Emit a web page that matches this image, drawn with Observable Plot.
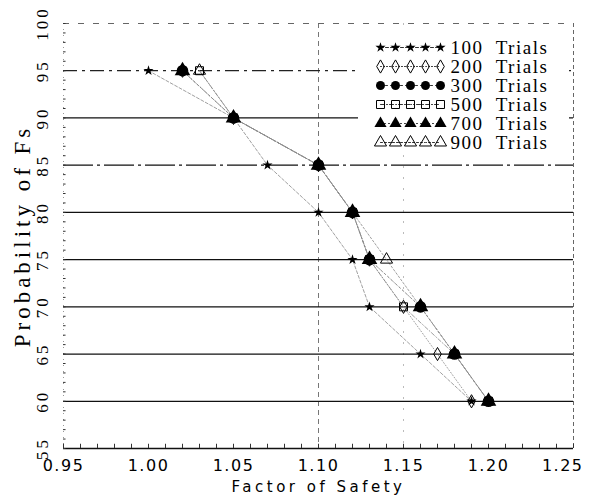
<!DOCTYPE html>
<html>
<head>
<meta charset="utf-8">
<script src="https://cdn.jsdelivr.net/npm/d3@7"></script>
<script src="https://cdn.jsdelivr.net/npm/@observablehq/plot@0.6"></script>
<style>
  html, body { margin: 0; padding: 0; background: #fff; }
  #wrap { position: relative; width: 589px; height: 499px; }
  #legend { position: absolute; left: 358px; top: 30px; width: 211px; height: 125px; background: #fff; }
</style>
</head>
<body>
<div id="wrap"><div id="chart"></div><div id="legend"></div></div>
<script>
// ---- data ----
const probs = [95, 90, 85, 80, 75, 70, 65, 60];
const fs100 = [1.00, 1.05, 1.07, 1.10, 1.12, 1.13, 1.16, 1.19];
const fs200 = [1.02, 1.05, 1.10, 1.12, 1.13, 1.15, 1.17, 1.19];
const fs300 = [1.02, 1.05, 1.10, 1.12, 1.13, 1.16, 1.18, 1.20];
const fs500 = [1.03, 1.05, 1.10, 1.12, 1.13, 1.15, 1.18, 1.20];
const fs700 = [1.02, 1.05, 1.10, 1.12, 1.13, 1.16, 1.18, 1.20];
const fs900 = [1.03, 1.05, 1.10, 1.12, 1.14, 1.16, 1.18, 1.20];
const seriesNames = ["100 Trials", "200 Trials", "300 Trials", "500 Trials", "700 Trials", "900 Trials"];
const xTicks = [0.95, 1.00, 1.05, 1.10, 1.15, 1.20, 1.25];
const yTicks = [55, 60, 65, 70, 75, 80, 85, 90, 95, 100];

// ---- styles (separate from data) ----
const styles = {
  "100 Trials": {symbol: "star", fill: "#000", stroke: "none", r: 3.2, dash: "3,2"},
  "200 Trials": {symbol: "diamond", fill: "none", stroke: "#000", r: 4, dash: "1,2"},
  "300 Trials": {symbol: "circle", fill: "#000", stroke: "none", r: 5.8, dash: "2,3"},
  "500 Trials": {symbol: "square", fill: "none", stroke: "#000", r: 4.5, dash: "4,2,1,2"},
  "700 Trials": {symbol: "triangle", fill: "#000", stroke: "none", r: 5.8, dash: "1,3"},
  "900 Trials": {symbol: "triangle", fill: "none", stroke: "#000", r: 4.5, dash: "2,2"}
};
const seriesFs = [fs100, fs200, fs300, fs500, fs700, fs900];
const rows = seriesNames.flatMap((name, i) => probs.map((p, j) => ({name, p, fs: seriesFs[i][j]})));

const minorY = d3.range(55, 101, 1);
const minorX = d3.range(0, 31).map(i => 0.95 + i * 0.01);

const seriesMarks = [];
for (const name of seriesNames) {
  const s = styles[name];
  const d = rows.filter(r => r.name === name);
  seriesMarks.push(Plot.line(d, {x: "fs", y: "p", stroke: "#888", strokeWidth: 0.8, strokeDasharray: s.dash}));
}
for (const name of seriesNames) {
  const s = styles[name];
  const d = rows.filter(r => r.name === name);
  seriesMarks.push(Plot.dot(d, {x: "fs", y: "p", symbol: () => s.symbol, r: s.r, fill: s.fill, stroke: s.stroke, strokeWidth: 1}));
}

const chart = Plot.plot({
  width: 589, height: 499,
  marginLeft: 63, marginRight: 16, marginTop: 23, marginBottom: 51,
  x: {domain: [0.95, 1.25], axis: null},
  y: {domain: [55, 100], axis: null},
  symbol: {type: "identity"},
  style: {background: "#fff", color: "#000", overflow: "visible"},
  marks: [
    // vertical guides / frame
    Plot.ruleX([1.10], {stroke: "#777", strokeWidth: 1, strokeDasharray: "5,4"}),
    Plot.ruleX([1.15], {stroke: "#bbb", strokeWidth: 1, strokeDasharray: "2,9"}),
    Plot.ruleX([1.25], {stroke: "#666", strokeWidth: 1, strokeDasharray: "4,3"}),
    Plot.ruleX([0.95], {stroke: "#999", strokeWidth: 1, strokeDasharray: "1,5"}),
    // horizontal grid
    Plot.ruleY(yTicks.filter(v => v <= 90 && v !== 85), {stroke: "#111", strokeWidth: 1.3}),
    Plot.ruleY([85], {stroke: "#111", strokeWidth: 1.3, strokeDasharray: "30,4,3,4"}),
    Plot.ruleY([95], {stroke: "#222", strokeWidth: 1.2, strokeDasharray: "14,5,3,5"}),
    Plot.ruleY([100], {stroke: "#666", strokeWidth: 1, strokeDasharray: "6,9"}),
    // minor ticks
    Plot.ruleY(minorY, {x1: 0.95, x2: 0.9515, stroke: "#333", strokeWidth: 1}),
    Plot.ruleX(minorX, {y1: 55, y2: 55.45, stroke: "#333", strokeWidth: 1}),
    // series
    ...seriesMarks,
    // tick labels
    Plot.text(yTicks, {x: () => 0.95, y: d => d, text: d => String(d), dx: -21, rotate: () => -90,
      textAnchor: "middle", lineAnchor: "middle", fontSize: 17, fontFamily: "Liberation Serif", fill: "#000"}),
    Plot.text(xTicks.filter(v => v < 1.25), {x: d => d, text: d => d.toFixed(2), frameAnchor: "bottom", dy: 17,
      textAnchor: "middle", lineAnchor: "middle", fontSize: 16, fontFamily: "DejaVu Sans", fill: "#000"}),
    Plot.text(xTicks.filter(v => v >= 1.25), {x: d => d, text: d => d.toFixed(2), frameAnchor: "bottom", dy: 17, dx: 10,
      textAnchor: "end", lineAnchor: "middle", fontSize: 16, fontFamily: "DejaVu Sans", fill: "#000"}),
    Plot.text(["Probability of Fs"], {text: d => d, frameAnchor: "left", dx: -41, rotate: -90,
      textAnchor: "middle", lineAnchor: "middle", fontSize: 23, fontFamily: "Liberation Serif", fill: "#000"}),
    Plot.text(["Factor of Safety"], {text: d => d, frameAnchor: "bottom", dy: 39,
      textAnchor: "middle", lineAnchor: "middle", fontSize: 15, fontFamily: "DejaVu Sans", fill: "#000"})
  ]
});
document.getElementById("chart").appendChild(chart);
chart.querySelectorAll("text").forEach(t => {
  const s = t.textContent;
  if (/^\d+$/.test(s)) t.style.letterSpacing = "3px";
  else if (/^\d\.\d\d$/.test(s)) t.style.letterSpacing = "1.5px";
  else if (s === "Probability of Fs") t.style.letterSpacing = "4px";
  else if (s === "Factor of Safety") t.style.letterSpacing = "3.5px";
});

// ---- legend (second Plot, overlaid inside the frame) ----
const legendRows = seriesNames.flatMap(name => d3.range(5).map(k => ({name, k})));
const legendMarks = [];
for (const name of seriesNames) {
  const s = styles[name];
  const d = legendRows.filter(r => r.name === name);
  legendMarks.push(Plot.line(d, {x: "k", y: "name", stroke: "#333", strokeWidth: 1, strokeDasharray: s.dash}));
  legendMarks.push(Plot.dot(d, {x: "k", y: "name", symbol: () => s.symbol, r: Math.min(s.r, 4.5), fill: s.fill, stroke: s.stroke, strokeWidth: 1}));
}
const legend = Plot.plot({
  width: 211, height: 125,
  marginLeft: 22, marginRight: 129, marginTop: 17, marginBottom: 13,
  x: {domain: [0, 4], axis: null},
  y: {type: "point", domain: seriesNames, axis: null, padding: 0},
  symbol: {type: "identity"},
  style: {background: "#fff", overflow: "visible"},
  marks: [
    ...legendMarks,
    Plot.text(seriesNames, {x: () => 4, y: d => d, text: d => d.replace(" ", "\u00a0 "), dx: 10,
      textAnchor: "start", lineAnchor: "middle", fontSize: 19, fontFamily: "Liberation Serif", fill: "#000"})
  ]
});
document.getElementById("legend").appendChild(legend);
legend.querySelectorAll("text").forEach(t => t.style.letterSpacing = "1.5px");
</script>
</body>
</html>
